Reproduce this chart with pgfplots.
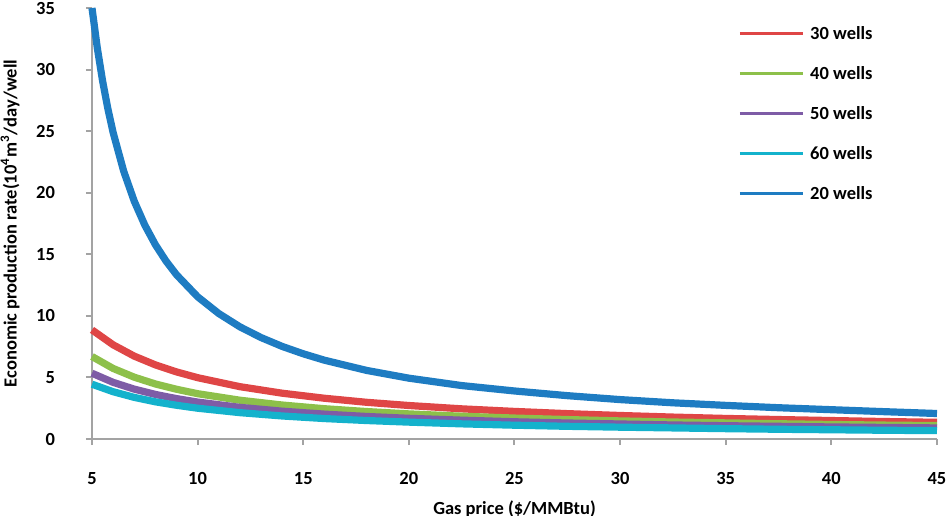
\documentclass[border=0pt]{standalone}
\usepackage{pgfplots}
\pgfplotsset{compat=1.18}
\usepackage{fontspec}
\setmainfont{Carlito}
\definecolor{c30}{HTML}{DF4646}
\definecolor{c40}{HTML}{8DC04A}
\definecolor{c50}{HTML}{7E5CA6}
\definecolor{c60}{HTML}{14B2CC}
\definecolor{c20}{HTML}{1E7CC2}
\definecolor{axgray}{HTML}{A3A3A3}
\newcommand{\lblfont}{\fontsize{9.25bp}{11bp}\selectfont\bfseries}
\begin{document}
\begin{tikzpicture}
\begin{axis}[
  at={(0,0)}, anchor=south west,
  width=422.5bp, height=215.5bp, scale only axis,
  xmin=5, xmax=45, ymin=0, ymax=35,
  clip=false,
  axis lines*=left,
  axis line style={draw=axgray, line width=1bp},
  xtick={5,10,...,45}, ytick={0,5,...,35},
  tick align=outside, major tick length=3bp,
  tick style={draw=axgray, line width=1bp},
  /pgf/number format/assume math mode=true,
  ticklabel style={font=\lblfont},
  xticklabel style={anchor=center, yshift=-16.6bp},
  yticklabel style={anchor=east, xshift=-12bp},
  xlabel={Gas price (\$/MMBtu)},
  ylabel={Economic production rate(10\textsuperscript{4}m\textsuperscript{3}/day/well},
  label style={font=\lblfont},
  xlabel style={at={(axis description cs:0.5,-0.162)}, anchor=center},
  ylabel style={at={(axis description cs:-0.097,0.5)}, anchor=center},
  legend style={draw=none, fill=none, inner sep=0pt, at={(rel axis cs:0.7645,0.96)}, anchor=north west,
    nodes={inner sep=0pt, text height=7bp, text depth=2bp, font=\lblfont, anchor=base west},
    row sep=11bp, column sep=3bp},
  legend cell align=left,
  legend image code/.code={\draw[#1, line width=1.4bp] (0bp,2.9bp) -- (31.5bp,2.9bp);},
  every axis plot/.append style={line width=3.6bp, line join=round},
]
\addplot[c30] coordinates {(5,8.86) (6,7.65) (7,6.73) (8,6.02) (9,5.45) (10,4.98) (12,4.25) (14,3.72) (16,3.31) (18,2.98) (20,2.72) (22.5,2.45) (25,2.24) (27.5,2.06) (30,1.91) (32.5,1.78) (35,1.67) (37.5,1.58) (40,1.50) (42.5,1.42) (45,1.355)};
\addlegendentry{30 wells}
\addplot[c40] coordinates {(5,6.70) (6,5.73) (7,5.02) (8,4.47) (9,4.04) (10,3.68) (12,3.15) (14,2.76) (16,2.46) (18,2.23) (20,2.04) (22.5,1.85) (25,1.70) (27.5,1.58) (30,1.47) (32.5,1.38) (35,1.31) (37.5,1.24) (40,1.18) (42.5,1.13) (45,1.09)};
\addlegendentry{40 wells}
\addplot[c50] coordinates {(5,5.34) (6,4.60) (7,4.05) (8,3.62) (9,3.28) (10,3.00) (12,2.57) (14,2.26) (16,2.02) (18,1.83) (20,1.68) (22.5,1.53) (25,1.40) (27.5,1.30) (30,1.22) (32.5,1.14) (35,1.08) (37.5,1.03) (40,0.98) (42.5,0.94) (45,0.90)};
\addlegendentry{50 wells}
\addplot[c60] coordinates {(5,4.45) (6,3.84) (7,3.38) (8,3.02) (9,2.74) (10,2.50) (12,2.14) (14,1.87) (16,1.66) (18,1.50) (20,1.37) (22.5,1.23) (25,1.12) (27.5,1.03) (30,0.96) (32.5,0.90) (35,0.84) (37.5,0.79) (40,0.75) (42.5,0.71) (45,0.68)};
\addlegendentry{60 wells}
\addplot[c20] coordinates {(5,35.0) (5.25,31.77) (5.5,29.09) (5.75,26.83) (6,24.89) (6.5,21.75) (7,19.31) (7.5,17.37) (8,15.78) (8.5,14.46) (9,13.34) (10,11.55) (11,10.19) (12,9.11) (13,8.24) (14,7.52) (15,6.92) (16,6.40) (18,5.57) (20,4.94) (22.5,4.34) (25,3.90) (27.5,3.52) (30,3.20) (32.5,2.94) (35,2.73) (37.5,2.54) (40,2.38) (42.5,2.22) (45,2.07)};
\addlegendentry{20 wells}
\end{axis}
\pgfresetboundingbox
\path[use as bounding box] (-46bp,-38.5bp) rectangle (428bp,219.5bp);
\end{tikzpicture}
\end{document}
